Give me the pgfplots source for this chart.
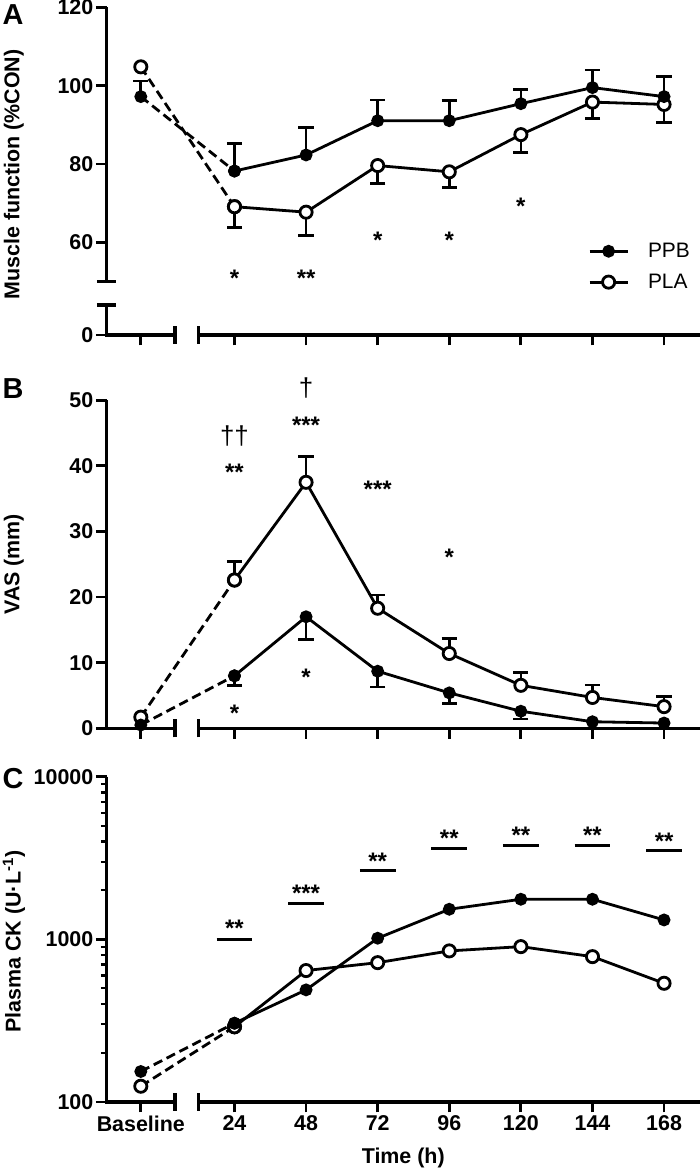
\documentclass[border=0pt]{standalone}
\usepackage{fontspec}
\setmainfont{Liberation Sans}
\usepackage{pgfplots}
\pgfplotsset{compat=1.18}
\newcommand\tickfont{\bfseries\fontsize{21.5}{24}\selectfont}
\newcommand\labfont{\bfseries\fontsize{21.5}{24}\selectfont}
\tikzset{
  axl/.style={line width=3.1bp, black, line cap=butt, line join=miter},
  star/.style={font=\bfseries\fontsize{24}{24}\selectfont, anchor=base, yshift=-13.7bp, inner sep=0pt},
  dag/.style={font=\fontsize{26}{26}\selectfont, anchor=center, inner sep=0pt},
}
\pgfplotsset{
  panel/.style={
    scale only axis, width=593.5bp, clip=false, xmin=-18.9, xmax=180.05,
    anchor=south west,
    axis line style={draw=none},
    tick pos=left, tick align=outside,
    major tick length=10.5bp, minor tick length=5.5bp,
    tick style={black, line width=2.8bp},
    minor tick style={black, line width=2.2bp},
    xtick={-7.4,24,48,72,96,120,144,168},
    ticklabel style={font=\tickfont},
    yticklabel style={inner xsep=2.5bp},
  },
  ppb/.style={black, line width=2.8bp, mark=*, mark size=5bp, mark options={solid, fill=black}},
  pla/.style={black, line width=2.8bp, mark=*, mark size=6.1bp, mark options={solid, fill=white}},
  dsh/.style={dash pattern=on 9.5bp off 5bp},
  ebplus/.style={forget plot, draw=none, mark=none,
    error bars/.cd, y dir=plus, y explicit,
    error bar style={draw=black, line width=2.7bp, solid},
    error mark options={draw=black, rotate=90, mark size=7.6bp, line width=2.7bp}},
  ebminus/.style={forget plot, draw=none, mark=none,
    error bars/.cd, y dir=minus, y explicit,
    error bar style={draw=black, line width=2.7bp, solid},
    error mark options={draw=black, rotate=90, mark size=7.6bp, line width=2.7bp}},
  sigbar/.style={forget plot, black, line width=3bp, mark=none, line cap=butt},
}
\begin{document}
\begin{tikzpicture}
\path[use as bounding box] (0,0) rectangle (700bp,1171bp);

% ---------------- Panel A ----------------
\begin{axis}[panel, at={(106.5bp,836bp)}, height=327.7bp,
  ymin=36.35, ymax=120,
  ytick={36.35,60,80,100,120}, yticklabels={0,60,80,100,120},
  xticklabels={},
  legend style={at={(axis description cs:0.8113,0.2084)}, anchor=west,
    draw=none, fill=none, inner sep=0pt,
    font=\fontsize{21}{21}\selectfont, row sep=15bp,
    nodes={inner sep=0pt},
    /tikz/every odd column/.append style={column sep=19bp}},
  legend cell align=left,
  legend image code/.code={\draw[mark repeat=2, mark phase=2, #1] plot coordinates {(0bp,0bp) (19bp,0bp) (38bp,0bp)};},
]
\draw[axl] (axis cs:-18.9,44) -- (axis cs:-18.9,36.35) -- (axis cs:4.06,36.35);
\draw[axl] (axis cs:-18.9,50.1) -- (axis cs:-18.9,120);
\draw[axl] ([xshift=-9.7bp]axis cs:-18.9,50.1) -- ([xshift=9.7bp]axis cs:-18.9,50.1);
\draw[axl] ([xshift=-9.7bp]axis cs:-18.9,44) -- ([xshift=9.7bp]axis cs:-18.9,44);
\draw[axl] ([yshift=-9bp]axis cs:4.06,36.35) -- ([yshift=9bp]axis cs:4.06,36.35);
\draw[axl] ([yshift=-9bp]axis cs:11.9,36.35) -- ([yshift=9bp]axis cs:11.9,36.35);
\draw[axl] (axis cs:11.9,36.35) -- (axis cs:180.05,36.35);

\addplot[ebplus] table[x=x, y=y, y error=e, row sep=\\] {
x y e \\ -7.4 97.2 4.0 \\ 24 78.2 7.1 \\ 48 82.3 7.0 \\ 72 91.05 5.25 \\ 96 91.05 5.1 \\ 120 95.4 3.7 \\ 144 99.5 4.5 \\ 168 97.2 5.2 \\
};
\addplot[ebminus] table[x=x, y=y, y error=e, row sep=\\] {
x y e \\ 24 69.1 5.3 \\ 48 67.7 5.9 \\ 72 79.6 4.5 \\ 96 78.0 4.0 \\ 120 87.5 4.5 \\ 144 95.8 4.1 \\ 168 95.2 4.6 \\
};
\addplot[forget plot, pla, dsh] coordinates {(-7.4,104.8) (24,69.1)};
\addplot[forget plot, pla] coordinates {(24,69.1) (48,67.7) (72,79.6) (96,78.0) (120,87.5) (144,95.8) (168,95.2)};
\addplot[forget plot, ppb, dsh] coordinates {(-7.4,97.2) (24,78.2)};
\addplot[forget plot, ppb] coordinates {(24,78.2) (48,82.3) (72,91.05) (96,91.05) (120,95.4) (144,99.5) (168,97.2)};

\addlegendimage{ppb}
\addlegendentry{PPB}
\addlegendimage{pla}
\addlegendentry{PLA}

\node[star] at (axis cs:24,52.2) {*};
\node[star] at (axis cs:48,52.2) {**};
\node[star] at (axis cs:72,61.8) {*};
\node[star] at (axis cs:96,61.8) {*};
\node[star] at (axis cs:120,70.5) {*};

\node[font=\bfseries\fontsize{29}{29}\selectfont] at (axis description cs:-0.1575,0.979) {A};
\node[font=\labfont, rotate=90] at (axis description cs:-0.156,0.49) {Muscle function (\%CON)};
\end{axis}

% ---------------- Panel B ----------------
\begin{axis}[panel, at={(106.5bp,442.7bp)}, height=328bp,
  ymin=0, ymax=50,
  ytick={0,10,20,30,40,50}, yticklabels={0,10,20,30,40,50},
  xticklabels={},
]
\draw[axl] (axis cs:-18.9,50) -- (axis cs:-18.9,0) -- (axis cs:4.06,0);
\draw[axl] ([yshift=-9bp]axis cs:4.06,0) -- ([yshift=9bp]axis cs:4.06,0);
\draw[axl] ([yshift=-9bp]axis cs:11.9,0) -- ([yshift=9bp]axis cs:11.9,0);
\draw[axl] (axis cs:11.9,0) -- (axis cs:180.05,0);

\addplot[ebminus] table[x=x, y=y, y error=e, row sep=\\] {
x y e \\ 24 8.0 1.5 \\ 48 17.0 3.5 \\ 72 8.7 2.4 \\ 96 5.4 1.6 \\ 120 2.6 1.2 \\
};
\addplot[ebplus] table[x=x, y=y, y error=e, row sep=\\] {
x y e \\ 24 22.6 2.8 \\ 48 37.5 3.9 \\ 72 18.3 2.0 \\ 96 11.4 2.3 \\ 120 6.55 2.0 \\ 144 4.7 1.9 \\ 168 3.3 1.6 \\
};
\addplot[forget plot, pla, dsh] coordinates {(-7.4,1.7) (24,22.6)};
\addplot[forget plot, pla] coordinates {(24,22.6) (48,37.5) (72,18.3) (96,11.4) (120,6.55) (144,4.7) (168,3.3)};
\addplot[forget plot, ppb, dsh] coordinates {(-7.4,0.5) (24,8.0)};
\addplot[forget plot, ppb] coordinates {(24,8.0) (48,17.0) (72,8.7) (96,5.4) (120,2.6) (144,1.0) (168,0.8)};

\node[dag] at (axis cs:24,44.5) {††};
\node[star] at (axis cs:24,39.9) {**};
\node[star] at (axis cs:24,3.05) {*};
\node[dag] at (axis cs:48,51.8) {†};
\node[star] at (axis cs:48,47.1) {***};
\node[star] at (axis cs:48,8.6) {*};
\node[star] at (axis cs:72,37.3) {***};
\node[star] at (axis cs:96,26.9) {*};

\node[font=\bfseries\fontsize{29}{29}\selectfont] at (axis description cs:-0.1575,1.0345) {B};
\node[font=\labfont, rotate=90] at (axis description cs:-0.156,0.5) {VAS (mm)};
\end{axis}

% ---------------- Panel C ----------------
\begin{axis}[panel, at={(106.5bp,69bp)}, height=325.3bp,
  ymode=log, ymin=100, ymax=10000,
  ytick={100,1000,10000}, yticklabels={100,1000,10000},
  minor ytick={200,300,400,500,600,700,800,900,2000,3000,4000,5000,6000,7000,8000,9000},
  xticklabels={Baseline,24,48,72,96,120,144,168},
]
\draw[axl] (axis cs:-18.9,10000) -- (axis cs:-18.9,100) -- (axis cs:4.06,100);
\draw[axl] ([yshift=-9bp]axis cs:4.06,100) -- ([yshift=9bp]axis cs:4.06,100);
\draw[axl] ([yshift=-9bp]axis cs:11.9,100) -- ([yshift=9bp]axis cs:11.9,100);
\draw[axl] (axis cs:11.9,100) -- (axis cs:180.05,100);

\addplot[sigbar] coordinates {(18,1000) (30,1000)};
\addplot[sigbar] coordinates {(42,1668) (54,1668)};
\addplot[sigbar] coordinates {(66,2634) (78,2634)};
\addplot[sigbar] coordinates {(90,3630) (102,3630)};
\addplot[sigbar] coordinates {(114,3789) (126,3789)};
\addplot[sigbar] coordinates {(138,3789) (150,3789)};
\addplot[sigbar] coordinates {(162,3496) (174,3496)};

\addplot[forget plot, pla, dsh] coordinates {(-7.4,125) (24,290)};
\addplot[forget plot, pla] coordinates {(24,290) (48,643) (72,719) (96,849) (120,902) (144,783) (168,537)};
\addplot[forget plot, ppb, dsh] coordinates {(-7.4,154) (24,305)};
\addplot[forget plot, ppb] coordinates {(24,305) (48,489) (72,1016) (96,1531) (120,1764) (144,1764) (168,1316)};

\node[star] at (axis cs:24,1267) {**};
\node[star] at (axis cs:48,2080) {***};
\node[star] at (axis cs:72,3260) {**};
\node[star] at (axis cs:96,4530) {**};
\node[star] at (axis cs:120,4706) {**};
\node[star] at (axis cs:144,4706) {**};
\node[star] at (axis cs:168,4325) {**};

\node[font=\bfseries\fontsize{29}{29}\selectfont] at (axis description cs:-0.1575,0.993) {C};
\node[font=\labfont, rotate=90] at (axis description cs:-0.156,0.493) {Plasma CK (U·L\textsuperscript{-1})};
\node[font=\labfont] at (axis description cs:0.5,-0.172) {Time (h)};
\end{axis}
\end{tikzpicture}
\end{document}
